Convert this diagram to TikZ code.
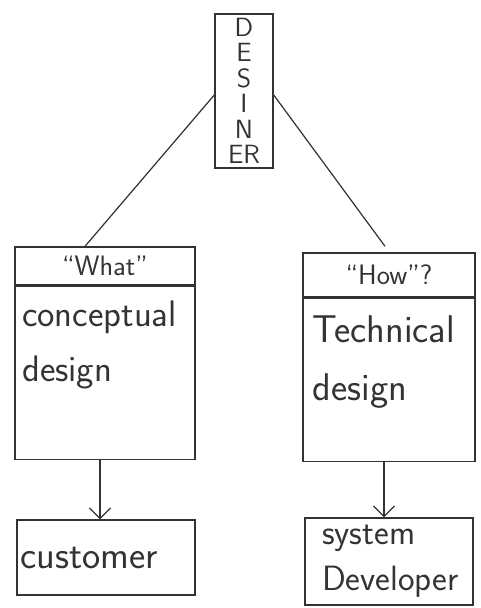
\documentclass[tikz,border=0pt]{standalone}
\usetikzlibrary{arrows.meta}
\begin{document}
\begin{tikzpicture}[
        every node/.style={inner sep=0pt, font=\sffamily, text=black!80},
        box/.style={draw=black!80, line width=0.8pt, rectangle},
        handtext/.style={font=\sffamily\fontsize{21}{31}\selectfont, align=left},
        link/.style={draw=black!80, line width=0.7pt},
      ]
      \useasboundingbox (0,0) rectangle (9.6,-12.16);
      \node[box, minimum width=1.16cm, minimum height=3.08cm, align=center,
        font=\sffamily\fontsize{15}{14.5}\selectfont] (designer) at (4.88,-1.82)
        {D\\E\\S\\I\\N\\ER};
      % left column
      \node[box, minimum width=3.6cm, minimum height=0.76cm,
        font=\sffamily\fontsize{16}{16}\selectfont] (whathead) at (2.1,-5.32) {``What''};
      \node[box, minimum width=3.6cm, minimum height=3.46cm, anchor=north]
        (whatbody) at (whathead.south) {};
      \node[handtext, anchor=north west] (whattext)
        at ([xshift=0.15cm, yshift=-0.3cm]whatbody.north west) {conceptual\\design};
      \node[box, minimum width=3.56cm, minimum height=1.5cm] (customer) at (2.12,-11.15) {};
      \node[handtext, anchor=west, font=\sffamily\fontsize{22}{26}\selectfont] (customertext)
        at ([xshift=0.08cm]customer.west) {customer};
      % right column
      \node[box, minimum width=3.44cm, minimum height=0.88cm,
        font=\sffamily\fontsize{16}{16}\selectfont] (howhead) at (7.78,-5.5) {``How''?};
      \node[box, minimum width=3.44cm, minimum height=3.26cm, anchor=north]
        (howbody) at (howhead.south) {};
      \node[handtext, anchor=north west, font=\sffamily\fontsize{22}{33}\selectfont] (howtext)
        at ([xshift=0.2cm, yshift=-0.35cm]howbody.north west) {Technical\\design};
      \node[box, minimum width=3.36cm, minimum height=1.74cm] (sysdev) at (7.78,-11.23) {};
      \node[handtext, anchor=west, font=\sffamily\fontsize{20}{26}\selectfont] (sysdevtext)
        at ([xshift=0.35cm]sysdev.west) {system\\Developer};
      % connectors
      \draw[link] ([yshift=-0.08cm]designer.west) -- ([xshift=-0.4cm]whathead.north);
      \draw[link] ([yshift=-0.08cm]designer.east) -- ([xshift=-0.08cm, yshift=0.12cm]howhead.north);
      \draw[link, -{Straight Barb[length=6pt, width=12pt]}]
        ([xshift=-0.1cm]whatbody.south) -- ([xshift=-0.12cm]customer.north);
      \draw[link, -{Straight Barb[length=6pt, width=12pt]}]
        ([xshift=-0.1cm]howbody.south) -- ([xshift=-0.1cm]sysdev.north);
    \end{tikzpicture}
\end{document}
